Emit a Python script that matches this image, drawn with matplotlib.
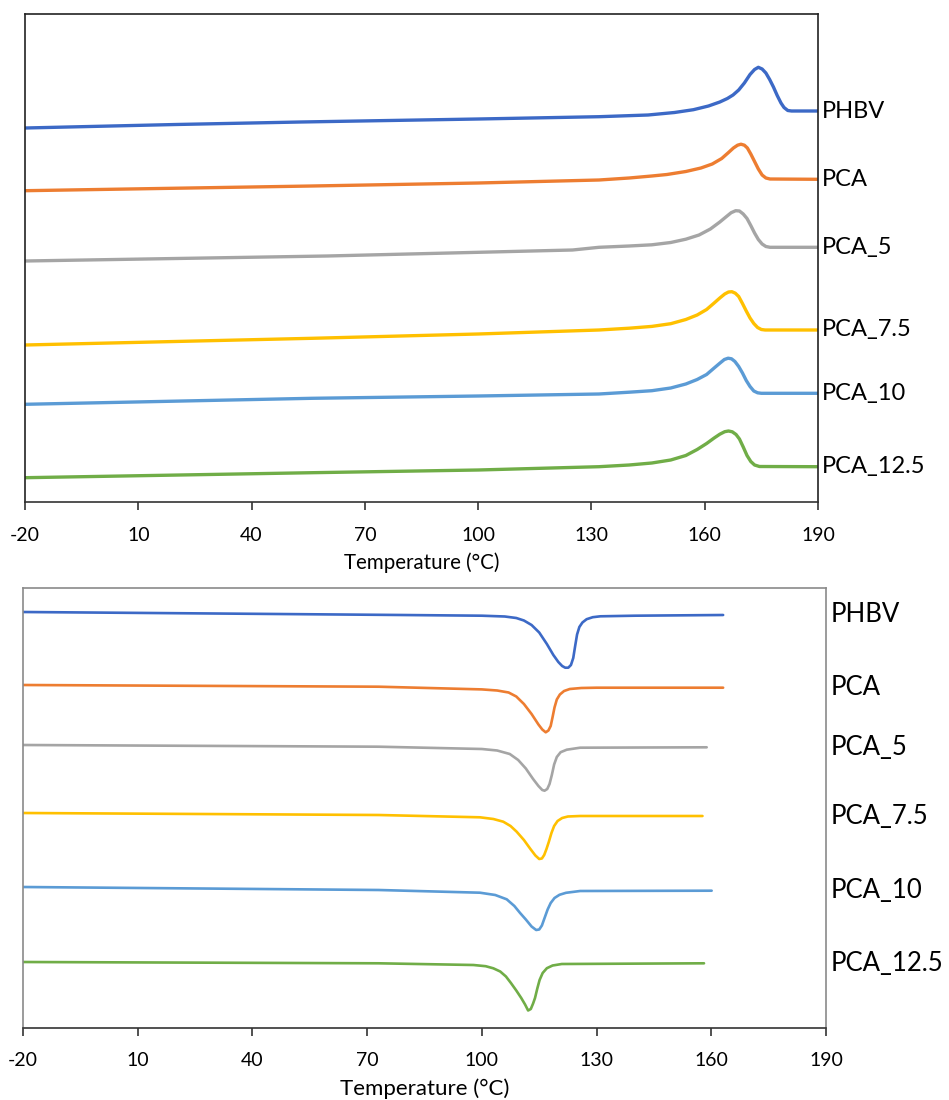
import matplotlib
matplotlib.use("Agg")
import matplotlib.pyplot as plt

plt.rcParams['font.family'] = ['Lato', 'DejaVu Sans']

samples = ["PHBV", "PCA", "PCA_5", "PCA_7.5", "PCA_10", "PCA_12.5"]
colors = ["#3C69C6", "#ED7D31", "#A5A5A5", "#FFC000", "#5B9BD5", "#70AD47"]
xticks = [-20, 10, 40, 70, 100, 130, 160, 190]

# ---- Heating scan (top): temperature (°C) and heat flow (a.u., stacked offsets) ----
heat_T_PHBV = [-20, 20, 53, 100, 132, 145, 152, 157, 161, 164, 166, 167.5, 169, 170.5, 172, 173.2, 174.2, 175.2, 176.2, 177.2, 178.2, 179.2, 180.2, 181, 182, 183, 190]
heat_H_PHBV = [374, 377.5, 380, 383, 385.3, 387, 389.5, 392.3, 396, 400, 403.5, 407, 412, 419, 427.5, 432.5, 434.7, 433, 429, 422.5, 415, 406.5, 399, 394.5, 391.5, 391, 391]

heat_T_PCA = [-20, 56, 100, 132, 140, 146, 150, 155, 159, 162, 164.5, 166.3, 167.6, 168.7, 169.6, 170.5, 171.3, 172.2, 173.2, 174.2, 175.2, 176.2, 177.3, 190]
heat_H_PCA = [311.3, 316, 319, 322, 324, 326, 327.5, 330.5, 334, 338, 343.5, 349.5, 354, 356.8, 357.8, 356.8, 354, 348, 340.5, 333, 327, 324, 323, 322.7]

heat_T_PCA5 = [-20, 60, 125, 132, 140, 146, 151, 155, 158.5, 161.5, 164, 165.7, 167, 168.2, 169.2, 170.2, 171.2, 172.2, 173.2, 174.2, 175.2, 176.2, 177.3, 190]
heat_H_PCA5 = [241, 246, 252, 254.7, 256, 257.2, 259.5, 262.8, 267, 273, 280, 285.3, 289.3, 291.3, 291, 288, 283.5, 276.5, 269, 262.5, 258, 255.5, 254.7, 254.7]

heat_T_PCA75 = [-20, 56, 100, 132, 140, 146, 151, 155, 158, 160.5, 162.5, 164, 165.3, 166.3, 167.2, 168.1, 169, 170, 171, 172, 173, 174, 175, 176, 190]
heat_H_PCA75 = [157, 163.7, 168, 172, 173.8, 175.6, 178.3, 182.5, 187, 192.5, 199, 204, 208, 210, 210.3, 208.8, 205.5, 198.5, 191, 184, 178.5, 174.5, 172.5, 172, 172]

heat_T_PCA10 = [-20, 56, 100, 132, 140, 146, 151, 155, 158, 160.5, 162.5, 164, 165.2, 166.2, 167.1, 168, 169, 170, 171, 172, 173, 174, 175, 190]
heat_H_PCA10 = [97.7, 103.7, 106, 108, 109.8, 111.3, 114, 118, 122.5, 127.5, 134, 138.8, 142.5, 143.8, 143.2, 140.5, 135.5, 129, 121.5, 115.5, 111, 109.2, 108.7, 108.7]

heat_T_PCA125 = [-20, 56, 100, 132, 140, 146, 151, 155, 158, 160.5, 162.5, 164, 165.3, 166.3, 167.3, 168.3, 169.2, 170.2, 171.2, 172.2, 173.2, 174.5, 190]
heat_H_PCA125 = [24.3, 29.3, 32, 35.3, 37, 39, 42, 46.5, 52.5, 58.5, 64, 67.8, 70.3, 71, 70.2, 67.5, 63, 55, 46.5, 40.5, 37, 35.5, 35.3]

# ---- Cooling scan (bottom) ----
cool_T_PHBV = [-20, 30, 79, 100, 106, 109, 111, 113, 115, 117, 118.7, 120, 121, 121.8, 122.6, 123.3, 123.9, 124.4, 124.9, 125.5, 126.3, 127.4, 129, 131, 140, 163.1]
cool_H_PHBV = [416, 414.5, 413, 412.3, 411.5, 410, 407.5, 403, 395.5, 384, 373, 366, 362, 360.3, 360.3, 363, 370, 382, 393.5, 401, 405.5, 408.8, 410.8, 411.7, 412.3, 413]

cool_T_PCA = [-20, 73, 100, 104, 107, 109, 111, 113, 114.8, 115.8, 116.7, 117.4, 118, 118.5, 119, 119.6, 120.4, 121.5, 123, 126, 130, 163.1]
cool_H_PCA = [343, 341.3, 338.6, 337.5, 335.5, 331.5, 324, 314, 303.5, 298.5, 295.7, 297.5, 302, 311, 320.5, 328.5, 333.5, 337, 339, 340, 340.3, 340.3]

cool_T_PCA5 = [-20, 73, 100, 104, 107.3, 109.5, 111.5, 113.4, 114.8, 115.8, 116.4, 117.1, 117.7, 118.3, 118.9, 119.6, 120.6, 122.2, 125.7, 158.8]
cool_H_PCA5 = [283, 281.3, 279, 277.5, 274, 268, 259.5, 249, 242, 238, 237.3, 239, 244, 253, 263.5, 271, 275.8, 278.3, 280.3, 280.7]

cool_T_PCA75 = [-20, 73, 99.5, 103, 105.6, 107.5, 109.1, 111, 112.7, 114, 115, 115.7, 116.3, 116.9, 117.5, 118.2, 118.9, 119.8, 121, 122.5, 125.7, 157.7]
cool_H_PCA75 = [215, 213, 210.7, 209, 206.3, 202, 196.3, 188, 179, 172.5, 169, 169.5, 173, 179, 186, 195, 202, 207, 210, 211.5, 212, 212]

cool_T_PCA10 = [-20, 73, 99.5, 103.5, 106.5, 108.5, 110, 111.5, 113, 114.2, 115, 115.7, 116.4, 117.2, 118, 119, 120.3, 122, 125.7, 160.1]
cool_H_PCA10 = [141, 138, 135.3, 133, 128.7, 122, 115, 108.5, 101.5, 98, 98.5, 102.5, 110, 118.5, 125, 130, 133.2, 135.2, 137, 137.3]

cool_T_PCA125 = [-20, 73, 97.8, 101, 103, 104.8, 106.3, 107.6, 109, 110.3, 111.3, 112.1, 112.8, 113.4, 113.9, 114.5, 115.1, 115.9, 117, 118.5, 120.9, 158.1]
cool_H_PCA125 = [66, 64.7, 63, 61.8, 59.7, 56.5, 51.5, 45, 37.5, 30, 23.5, 17.5, 19, 24.5, 30, 39.5, 48, 55, 59.8, 62.5, 64, 64.7]

heat_T = [heat_T_PHBV, heat_T_PCA, heat_T_PCA5, heat_T_PCA75, heat_T_PCA10, heat_T_PCA125]
heat_H = [heat_H_PHBV, heat_H_PCA, heat_H_PCA5, heat_H_PCA75, heat_H_PCA10, heat_H_PCA125]
cool_T = [cool_T_PHBV, cool_T_PCA, cool_T_PCA5, cool_T_PCA75, cool_T_PCA10, cool_T_PCA125]
cool_H = [cool_H_PHBV, cool_H_PCA, cool_H_PCA5, cool_H_PCA75, cool_H_PCA10, cool_H_PCA125]

W, H = 949, 1100
fig = plt.figure(figsize=(W / 100, H / 100), dpi=100)

def px_axes(l, r, t, b):
    return fig.add_axes([l / W, 1 - b / H, (r - l) / W, (b - t) / H])

ax1 = px_axes(25, 818, 14, 502)
ax2 = px_axes(23, 826, 588, 1028)

panels = [
    dict(ax=ax1, Ts=heat_T, Hs=heat_H, ylim=(0, 488), lw=2.4, fs_lab=17, fs_tick=14,
         fs_xl=14.8, spine="#222222", pad=12, lpad=6),
    dict(ax=ax2, Ts=cool_T, Hs=cool_H, ylim=(0, 440), lw=1.9, fs_lab=18.5, fs_tick=14,
         fs_xl=16, spine="#8a8a8a", pad=11, lpad=7),
]

for p in panels:
    ax = p["ax"]
    for name, c, t, h in zip(samples, colors, p["Ts"], p["Hs"]):
        ax.plot(t, h, color=c, lw=p["lw"], solid_joinstyle="round", solid_capstyle="round")
        ax.annotate(name, xy=(1, h[-1]), xycoords=("axes fraction", "data"),
                    xytext=(3, 0), textcoords="offset points",
                    ha="left", va="center", fontsize=p["fs_lab"], color="black",
                    annotation_clip=False)
    ax.set_xlim(-20, 190)
    ax.set_ylim(*p["ylim"])
    ax.set_xticks(xticks)
    ax.set_xticklabels([str(v) for v in xticks])
    ax.set_yticks([])
    for s in ax.spines.values():
        s.set_color(p["spine"])
        s.set_linewidth(1.2)
    ax.spines["bottom"].set_color("#333333")
    ax.tick_params(axis="x", direction="out", length=6, width=1.2, color="#333333",
                   labelsize=p["fs_tick"], pad=p["pad"])
    ax.set_xlabel("Temperature (°C)", fontsize=p["fs_xl"], labelpad=p["lpad"])

fig.savefig("out.png", dpi=100)
